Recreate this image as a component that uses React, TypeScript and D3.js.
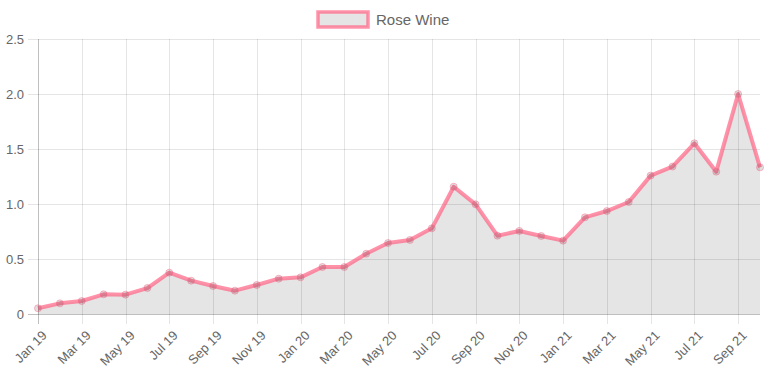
import React from "react";
import * as d3 from "d3";

const months = [
  "Jan 19", "Feb 19", "Mar 19", "Apr 19", "May 19", "Jun 19", "Jul 19", "Aug 19", "Sep 19", "Oct 19", "Nov 19", "Dec 19",
  "Jan 20", "Feb 20", "Mar 20", "Apr 20", "May 20", "Jun 20", "Jul 20", "Aug 20", "Sep 20", "Oct 20", "Nov 20", "Dec 20",
  "Jan 21", "Feb 21", "Mar 21", "Apr 21", "May 21", "Jun 21", "Jul 21", "Aug 21", "Sep 21", "Oct 21",
];
const roseWine = [
  0.052, 0.097, 0.118, 0.179, 0.176, 0.236, 0.376, 0.303, 0.255, 0.212, 0.264, 0.321,
  0.333, 0.427, 0.427, 0.548, 0.645, 0.673, 0.779, 1.157, 0.997, 0.712, 0.755, 0.709,
  0.667, 0.879, 0.936, 1.018, 1.258, 1.34, 1.552, 1.294, 2.0, 1.333,
];
const xTickLabels = months.filter((_, i) => i % 2 === 0);
const yTicks = [0, 0.5, 1.0, 1.5, 2.0, 2.5];
const seriesName = "Rose Wine";

const W = 767;
const H = 383;
const left = 38;
const right = 760;
const top = 39;
const bottom = 314;

export default function App() {
  const x = d3.scalePoint<string>().domain(months).range([left, right]);
  const y = d3.scaleLinear().domain([0, 2.5]).range([bottom, top]);
  const pts = months.map((m, i) => [x(m) as number, y(roseWine[i])] as [number, number]);
  const line = d3.line<[number, number]>()(pts) || "";
  const area = d3.area<[number, number]>().x((d) => d[0]).y0(y(0)).y1((d) => d[1])(pts) || "";
  const font = "'Liberation Sans', Arial, Helvetica, sans-serif";
  const lineColor = "rgba(255,99,132,0.7)";
  return (
    <svg width={W} height={H} style={{ position: "absolute", left: 0, top: 0, fontFamily: font }}>
      <rect width={W} height={H} fill="#fff" />
      {/* legend */}
      <rect x={318} y={12} width={50} height={15} fill="rgba(0,0,0,0.1)" stroke={lineColor} strokeWidth={3.5} />
      <text x={376} y={25} fontSize={15} fill="#666">{seriesName}</text>
      {/* horizontal grid */}
      {yTicks.map((t) => (
        <g key={t}>
          <line x1={28} x2={right} y1={y(t) + 0.5} y2={y(t) + 0.5} stroke={t === 0 ? "rgba(0,0,0,0.25)" : "rgba(0,0,0,0.1)"} />
          <text x={24} y={y(t)} dy="0.35em" textAnchor="end" fontSize={13} fill="#666">
            {t === 0 ? "0" : t.toFixed(1)}
          </text>
        </g>
      ))}
      {/* vertical grid */}
      {xTickLabels.map((m, i) => {
        const xv = Math.round(x(m) as number) + 0.5;
        return (
          <g key={m}>
            <line x1={xv} x2={xv} y1={top} y2={324} stroke={i === 0 ? "rgba(0,0,0,0.25)" : "rgba(0,0,0,0.1)"} />
            <text
              transform={`translate(${xv + 6},${333}) rotate(-45)`}
              textAnchor="end"
              dy="0.35em"
              fontSize={13}
              fill="#666"
            >
              {m}
            </text>
          </g>
        );
      })}
      <path d={area} fill="rgba(0,0,0,0.1)" />
      <path d={line} fill="none" stroke={lineColor} strokeWidth={4} strokeLinejoin="round" />
      {pts.map((p, i) => (
        <circle key={i} cx={p[0]} cy={p[1]} r={3.5} fill="rgba(0,0,0,0.12)" stroke="rgba(255,99,132,0.45)" strokeWidth={1} />
      ))}
    </svg>
  );
}
